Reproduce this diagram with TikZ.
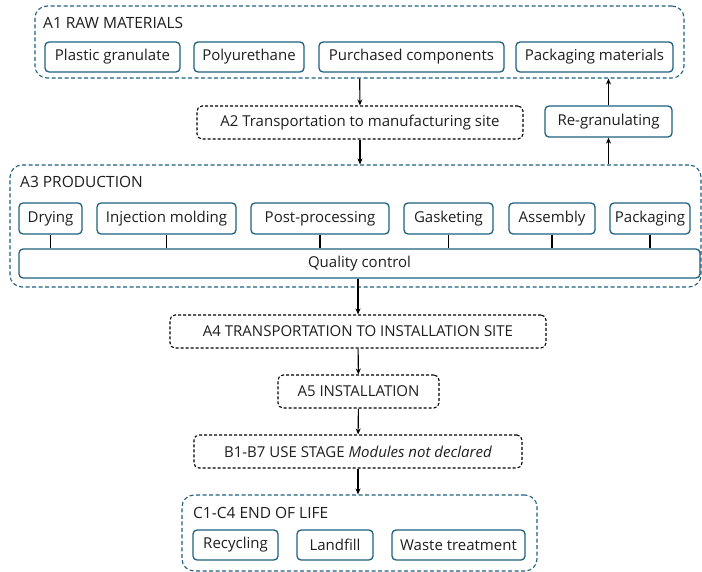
\documentclass[tikz,border=0pt]{standalone}
\usepackage{fontspec}
\setmainfont{Open Sans}
\usetikzlibrary{arrows.meta}
\definecolor{boxblue}{RGB}{31,97,128}
\definecolor{inkgray}{RGB}{30,30,30}
\begin{document}
\begin{tikzpicture}[
      x=1pt, y=-1pt,
      >={Stealth[length=6pt, width=5pt]},
      font=\fontsize{15}{18}\selectfont,
      text=inkgray,
      group/.style={draw=boxblue, dash pattern=on 4pt off 2.5pt, rounded corners=12pt, line width=1.1pt, inner sep=0pt},
      item/.style={draw=boxblue, rounded corners=4pt, line width=1.3pt, inner sep=0pt, minimum height=30pt},
      stage/.style={draw, dash pattern=on 3pt off 2pt, rounded corners=5pt, line width=1.1pt, inner sep=0pt, minimum height=33pt},
      title/.style={anchor=west, inner sep=0pt, font=\fontsize{15.5}{18}\selectfont},
      link/.style={line width=1.1pt},
    ]
      \useasboundingbox (0,0) rectangle (702,572);
      \node[group, minimum width=649pt, minimum height=72pt] (a1) at (359.5, 42) {};
      \node[title] (a1t) at (43, 23) {A1 RAW MATERIALS};
      \node[item, minimum width=135pt] (plastic) at (112.5, 57) {Plastic granulate};
      \node[item, minimum width=110pt] (poly) at (249, 57) {Polyurethane};
      \node[item, minimum width=185pt] (purch) at (411.5, 57) {Purchased components};
      \node[item, minimum width=157pt] (packmat) at (594.5, 57) {Packaging materials};
      \node[stage, minimum width=326pt] (a2) at (360, 122.5) {A2 Transportation to manufacturing site};
      \node[item, minimum width=127pt, minimum height=31pt] (regran) at (608.5, 121.5) {Re-granulating};
      \node[group, minimum width=691pt, minimum height=122pt] (a3) at (355.5, 226) {};
      \node[title] (a3t) at (20, 182) {A3 PRODUCTION};
      \node[item, minimum width=63pt, minimum height=31pt] (dry) at (50.5, 218.5) {Drying};
      \node[item, minimum width=139pt, minimum height=31pt] (inj) at (166.5, 218.5) {Injection molding};
      \node[item, minimum width=138pt, minimum height=31pt] (post) at (320, 218.5) {Post-processing};
      \node[item, minimum width=89pt, minimum height=31pt] (gask) at (448.5, 218.5) {Gasketing};
      \node[item, minimum width=86pt, minimum height=31pt] (assem) at (552, 218.5) {Assembly};
      \node[item, minimum width=80pt, minimum height=31pt] (packg) at (650, 218.5) {Packaging};
      \node[item, minimum width=681pt, minimum height=29pt] (qc) at (359.5, 263.5) {Quality control};
      \node[stage, minimum width=376pt] (a4) at (358, 331.5) {A4 TRANSPORTATION TO INSTALLATION SITE};
      \node[stage, minimum width=161pt] (a5) at (358.5, 391.5) {A5 INSTALLATION};
      \node[stage, minimum width=328pt] (b17) at (358, 451.5) {B1-B7 USE STAGE \textit{Modules not declared}};
      \node[group, minimum width=355pt, minimum height=76pt] (c) at (359.5, 533) {};
      \node[title] (ct) at (193, 512.5) {C1-C4 END OF LIFE};
      \node[item, minimum width=85pt] (recyc) at (235.5, 545) {Recycling};
      \node[item, minimum width=76pt] (landf) at (335, 545) {Landfill};
      \node[item, minimum width=133pt] (waste) at (458.5, 545) {Waste treatment};
      \draw[link, ->] (a1) -- (a2);
      \draw[link, ->] (a2) -- (a2 |- a3.north);
      \draw[link, ->] (regran.north) -- (regran.north |- a1.south);
      \draw[link, ->] (regran.south |- a3.north) -- (regran.south);
      \draw[link] (dry) -- (dry |- qc.north);
      \draw[link] (inj) -- (inj |- qc.north);
      \draw[link] (post) -- (post |- qc.north);
      \draw[link] (gask) -- (gask |- qc.north);
      \draw[link] (assem) -- (assem |- qc.north);
      \draw[link] (packg) -- (packg |- qc.north);
      \draw[link, ->] (a4.north |- qc.south) -- (a4.north);
      \draw[link, ->] (a4) -- (a5);
      \draw[link, ->] (a5) -- (b17);
      \draw[link, ->] (b17) -- (b17 |- c.north);
    \end{tikzpicture}
\end{document}
